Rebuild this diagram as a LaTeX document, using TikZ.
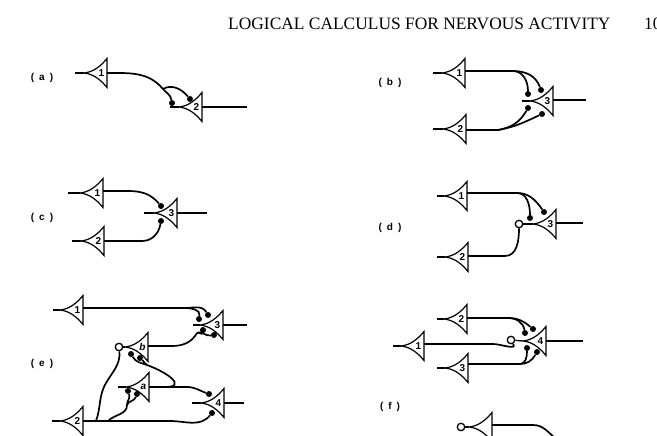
\documentclass[tikz,border=0pt]{standalone}
\usepackage{fontspec}
\setmainfont{Liberation Serif}
\setsansfont{Liberation Sans}
\tikzset{
    wire/.style={line width=1.3pt},
    axon/.style={line width=1.7pt},
    dot/.style={circle,fill=black,inner sep=0pt,minimum size=6pt},
    inhib/.style={circle,draw,fill=white,line width=1.3pt,inner sep=0pt,minimum size=7.5pt},
    tag/.style={font=\sffamily\bfseries\fontsize{10}{12}\selectfont},
    neuron/.pic={
        \draw[line width=1.2pt,line join=miter] (-23,0) .. controls (-14,-1) and (-7,-6) .. (0,-14.5) -- (0,14.5) .. controls (-7,6) and (-14,1) .. (-23,0);
        \coordinate (-tip) at (-23,0);
        \coordinate (-base) at (0,0);
        \node[tag,inner sep=0pt] (-lab) at (-5.5,0) {#1};
    }
}

\begin{document}
\begin{tikzpicture}[x=1pt,y=-1pt]
    \useasboundingbox (0,0) rectangle (657,436);
    \clip (0,0) rectangle (657,436);

    % Draw the page heading
    \node[anchor=west,inner sep=0pt,font=\fontsize{17.4}{20}\selectfont] (head) at (228,24) {LOGICAL CALCULUS FOR NERVOUS ACTIVITY};
    \node[anchor=west,inner sep=0pt,font=\fontsize{17.4}{20}\selectfont] (page) at (644,24) {10};

    % Draw the panel tags
    \node[tag] (ta) at (42,78) {(\,\,\,a\,\,\,)};
    \node[tag] (tb) at (390,83) {(\,\,\,b\,\,\,)};
    \node[tag] (tc) at (42,218) {(\,\,\,c\,\,\,)};
    \node[tag] (td) at (390,228) {(\,\,\,d\,\,\,)};
    \node[tag] (te) at (42,364) {(\,\,\,e\,\,\,)};
    \node[tag] (tf) at (390,407) {(\,\,\,f\,\,\,)};

    % Panel (a)
    \pic (a1) at (107,73) {neuron=1};
    \pic (a2) at (202,107) {neuron=2};
    \node[dot] (a2p) at (172,103) {};
    \node[dot] (a2q) at (190,99) {};
    \coordinate (a1l) at (75,73);
    \coordinate (a2l) at (170,107);
    \coordinate (a2r) at (247,107);
    \coordinate (a1j) at (163,89);
    \draw[wire] (a1-tip) -- (a1l);
    \draw[wire] (a2-tip) -- (a2l);
    \draw[wire] (a2-base) -- (a2r);
    \draw[axon] (a1-base) to[out=0,in=130] (a1j) to[out=-50,in=100] (a2p);
    \draw[axon] (a1j) to[out=30,in=130] (a2q);

    % Panel (b)
    \pic (b1) at (465,73) {neuron=1};
    \pic (b2) at (466,129) {neuron=2};
    \pic (b3) at (553,101) {neuron=3};
    \node[dot] (b3p) at (528,94) {};
    \node[dot] (b3q) at (541,90) {};
    \node[dot] (b3r) at (528,108) {};
    \node[dot] (b3s) at (542,114) {};
    \coordinate (b1l) at (433,73);
    \coordinate (b2l) at (433,129);
    \coordinate (b3l) at (522,101);
    \coordinate (b3o) at (586,100);
    \coordinate (b1j) at (513,71);
    \coordinate (b2j) at (498,130);
    \draw[wire] (b1-tip) -- (b1l);
    \draw[wire] (b2-tip) -- (b2l);
    \draw[wire] (b3-tip) -- (b3l);
    \draw[wire] (b3-base |- b3o) -- (b3o);
    \draw[axon] (b1-base |- b1j) -- (b1j);
    \draw[axon] (b1j) to[out=0,in=90] (b3p);
    \draw[axon] (b1j) to[out=0,in=110] (b3q);
    \draw[axon] (b2-base |- b2j) -- (b2j);
    \draw[axon] (b2j) to[out=10,in=-120] (b3r);
    \draw[axon] (b2j) to[out=10,in=-155] (b3s);

    % Panel (c)
    \pic (c1) at (103,193) {neuron=1};
    \pic (c2) at (104,241) {neuron=2};
    \pic (c3) at (177,213) {neuron=3};
    \node[dot] (c3p) at (161,206) {};
    \node[dot] (c3q) at (161,221) {};
    \coordinate (c1l) at (68,193);
    \coordinate (c2l) at (72,241);
    \coordinate (c3l) at (144,213);
    \coordinate (c3o) at (207,213);
    \coordinate (c1j) at (128,191);
    \coordinate (c2j) at (142,241);
    \draw[wire] (c1-tip) -- (c1l);
    \draw[wire] (c2-tip) -- (c2l);
    \draw[wire] (c3-tip) -- (c3l);
    \draw[wire] (c3-base) -- (c3o);
    \draw[axon] (c1-base |- c1j) -- (c1j) to[out=0,in=130] (c3p);
    \draw[axon] (c2-base) -- (c2j) to[out=0,in=-100] (c3q);

    % Panel (d)
    \pic (d1) at (467,196) {neuron=1};
    \pic (d2) at (468,257) {neuron=2};
    \pic (d3) at (556,224) {neuron=3};
    \node[dot] (d3p) at (530,218) {};
    \node[dot] (d3q) at (544,212) {};
    \node[inhib] (d3c) at (519,224) {};
    \coordinate (d1l) at (437,196);
    \coordinate (d2l) at (437,257);
    \coordinate (d3o) at (583,223);
    \coordinate (d1j) at (517,193);
    \coordinate (d2j) at (505,256);
    \draw[wire] (d1-tip) -- (d1l);
    \draw[wire] (d2-tip) -- (d2l);
    \draw[wire] (d3-tip) -- (d3c);
    \draw[wire] (d3-base |- d3o) -- (d3o);
    \draw[axon] (d1-base |- d1j) -- (d1j);
    \draw[axon] (d1j) to[out=0,in=90] (d3p);
    \draw[axon] (d1j) to[out=0,in=125] (d3q);
    \draw[axon] (d2-base |- d2j) -- (d2j) to[out=0,in=-90] (d3c);

    % Panel (e)
    \pic (e1) at (83,310) {neuron=1};
    \pic (e2) at (83,421) {neuron=2};
    \pic (e3) at (223,325) {neuron=3};
    \pic (e4) at (224,403) {neuron=4};
    \pic (eb) at (148,347) {neuron=\textit{b}};
    \pic (ea) at (149,387) {neuron=\textit{a}};
    \node[dot] (e3p) at (208,315) {};
    \node[dot] (e3q) at (199,319) {};
    \node[dot] (e3r) at (203,330) {};
    \node[dot] (e3s) at (214,335) {};
    \node[dot] (e4p) at (209,394) {};
    \node[dot] (e4q) at (212,413) {};
    \node[dot] (ebp) at (131,354) {};
    \node[dot] (ebq) at (140,358) {};
    \node[dot] (eap) at (128,391) {};
    \node[dot] (eaq) at (137,394) {};
    \node[inhib] (ebc) at (119,347) {};
    \coordinate (e1l) at (53,310);
    \coordinate (e2l) at (52,421);
    \coordinate (e3l) at (193,325);
    \coordinate (e4l) at (192,403);
    \coordinate (eal) at (118,387);
    \coordinate (e3o) at (247,325);
    \coordinate (e4o) at (244,403);
    \coordinate (e1j) at (185,308);
    \coordinate (ebj) at (172,346);
    \coordinate (ebk) at (197,333);
    \coordinate (eaj) at (187,387);
    \coordinate (eak) at (165,387);
    \coordinate (eam) at (147,365);
    \coordinate (e2j) at (170,421);
    \coordinate (e2k) at (96,421);
    \coordinate (e2m) at (108,421);
    \coordinate (e2n) at (127,405);
    \coordinate (e2w) at (106,383);
    \draw[wire] (e1-tip) -- (e1l);
    \draw[wire] (e2-tip) -- (e2l);
    \draw[wire] (e3-tip) -- (e3l);
    \draw[wire] (e4-tip) -- (e4l);
    \draw[wire] (ea-tip) -- (eal);
    \draw[wire] (eb-tip) -- (ebc);
    \draw[wire] (e3-base) -- (e3o);
    \draw[wire] (e4-base) -- (e4o);
    \draw[axon] (e1-base |- e1j) -- (e1j);
    \draw[axon] (e1j) to[out=0,in=120] (e3p);
    \draw[axon] (e1j) to[out=0,in=80] (e3q);
    \draw[axon] (eb-base |- ebj) -- (ebj) to[out=0,in=-120] (ebk);
    \draw[axon] (ebk) to[out=60,in=-100] (e3r);
    \draw[axon] (ebk) to[out=30,in=-170] (e3s);
    \draw[axon] (ea-base) -- (eak) to[out=0,in=-20,looseness=2] (eam);
    \draw[axon] (eam) to[out=160,in=-60] (ebp);
    \draw[axon] (eam) to[out=160,in=-40] (ebq);
    \draw[axon] (ea-base) -- (eaj) to[out=0,in=160] (e4p);
    \draw[axon] (e2-base) -- (e2j) to[out=0,in=-130] (e4q);
    \draw[axon] (e2k) to[out=70,in=-120] (e2w) to[out=60,in=-85] (ebc);
    \draw[axon] (e2m) to[out=45,in=-90] (e2n);
    \draw[axon] (e2n) to[out=90,in=-70] (eap);
    \draw[axon] (e2n) to[out=70,in=-110] (eaq);

    % Panel (f)
    \pic (f2) at (467,319) {neuron=2};
    \pic (f1) at (424,346) {neuron=1};
    \pic (f4) at (546,341) {neuron=4};
    \pic (f3) at (468,368) {neuron=3};
    \pic (f5) at (492,427) {neuron=};
    \node[dot] (f4p) at (525,333) {};
    \node[dot] (f4q) at (533,329) {};
    \node[dot] (f4r) at (527,348) {};
    \node[dot] (f4s) at (537,352) {};
    \node[inhib] (f4c) at (511,340) {};
    \node[inhib] (f5c) at (461,427) {};
    \coordinate (f1l) at (393,346);
    \coordinate (f2l) at (437,319);
    \coordinate (f3l) at (437,368);
    \coordinate (f4o) at (583,341);
    \coordinate (f2j) at (508,318);
    \coordinate (f3j) at (520,364);
    \coordinate (f1j) at (493,344);
    \coordinate (f5j) at (533,425);
    \coordinate (f5k) at (555,438);
    \draw[wire] (f1-tip) -- (f1l);
    \draw[wire] (f2-tip) -- (f2l);
    \draw[wire] (f3-tip) -- (f3l);
    \draw[wire] (f4-tip) -- (f4c);
    \draw[wire] (f5-tip) -- (f5c);
    \draw[wire] (f4-base) -- (f4o);
    \draw[axon] (f2-base |- f2j) -- (f2j);
    \draw[axon] (f2j) to[out=0,in=100] (f4p);
    \draw[axon] (f2j) to[out=0,in=140] (f4q);
    \draw[axon] (f1-base |- f1j) -- (f1j) to[out=0,in=-60] (f4c);
    \draw[axon] (f3-base |- f3j) -- (f3j);
    \draw[axon] (f3j) to[out=0,in=-90] (f4r);
    \draw[axon] (f3j) to[out=0,in=-120] (f4s);
    \draw[axon] (f5-base |- f5j) -- (f5j) to[out=0,in=140] (f5k);
\end{tikzpicture}
\end{document}
